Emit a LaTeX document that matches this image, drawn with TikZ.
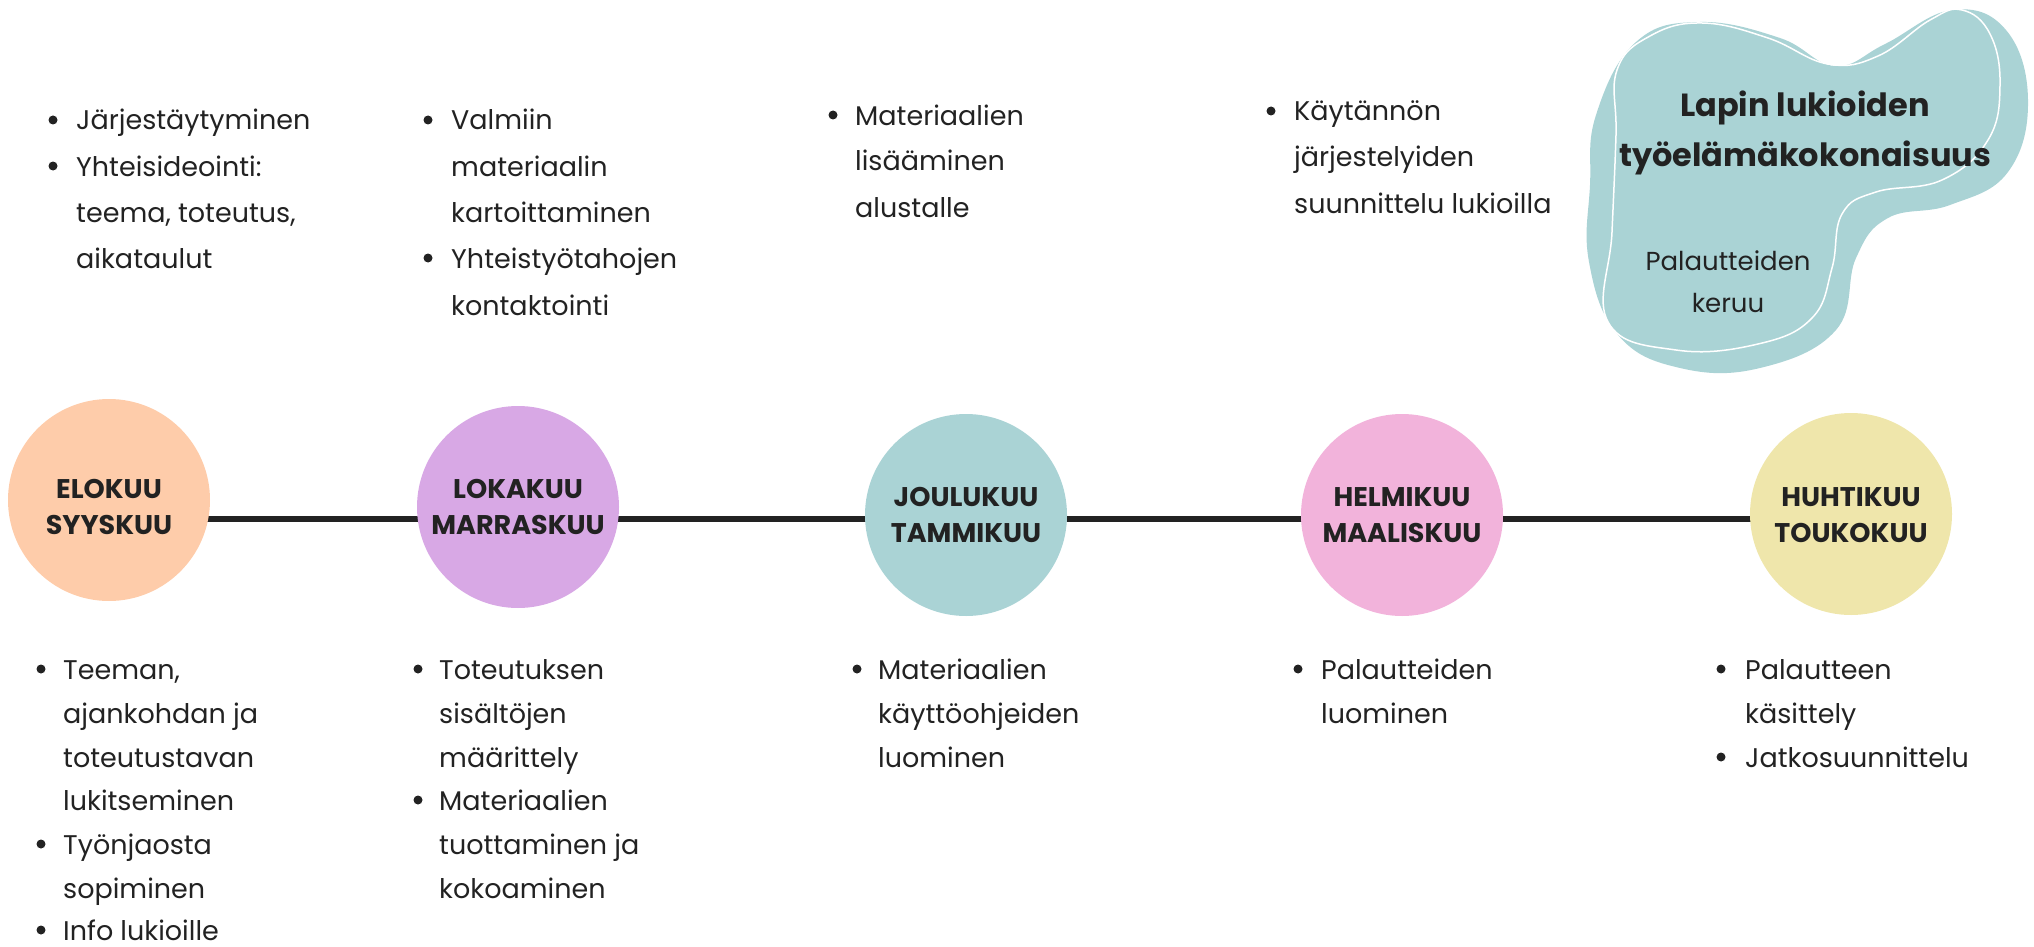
\documentclass[tikz,border=0pt]{standalone}
\usepackage{fontspec}
\setmainfont{Poppins}
\usetikzlibrary{backgrounds}
\definecolor{cpeach}{HTML}{FECCAA}
\definecolor{clilac}{HTML}{D8A8E5}
\definecolor{cteal}{HTML}{AAD3D5}
\definecolor{cpink}{HTML}{F2B3DB}
\definecolor{cyellow}{HTML}{EFE6AB}
\definecolor{ctext}{HTML}{222222}
\begin{document}
\begin{tikzpicture}[x=1pt,y=-1pt,
  txt/.style={font=\fontsize{27}{33}\selectfont, text=ctext, anchor=base west, inner sep=0pt},
  bul/.style={circle, fill=ctext, minimum size=9pt, inner sep=0pt},
  mon/.style={circle, minimum size=202pt, inner sep=0pt},
  monlbl/.style={font=\bfseries\fontsize{27}{32}\selectfont, text=ctext, anchor=base, inner sep=0pt},
  tl/.style={line width=6.5pt, draw=ctext},
  blobtitle/.style={font=\bfseries\fontsize{32}{38}\selectfont, text=ctext, anchor=base, inner sep=0pt},
  blobtxt/.style={font=\fontsize{26}{32}\selectfont, text=ctext, anchor=base, inner sep=0pt}
]
\useasboundingbox (0,0) rectangle (2034,947);

% blob
\fill[cteal] plot[smooth cycle, tension=0.7] coordinates {
  (1596,115) (1636,42) (1700,22) (1780,38) (1835,66) (1885,44) (1952,10)
  (2006,30) (2028,100) (2008,172) (1950,205) (1888,218) (1856,258)
  (1836,330) (1760,368) (1680,368) (1618,335) (1589,262) (1590,185)};
\draw[white, line width=1.5pt] plot[smooth cycle, tension=0.7] coordinates {
  (1617,70) (1650,36) (1702,23) (1768,38) (1828,64) (1878,56) (1930,20)
  (1962,10) (1990,34) (2000,85) (1988,140) (1942,180) (1876,192)
  (1842,214) (1832,268) (1812,318) (1758,344) (1676,350) (1608,322)
  (1612,232) (1616,135)};
\node[blobtitle] (bt1) at (1805,117) {Lapin lukioiden};
\node[blobtitle] (bt2) at (1805,167) {työelämäkokonaisuus};
\node[blobtxt] (bp1) at (1728,270) {Palautteiden};
\node[blobtxt] (bp2) at (1728,312) {keruu};

% circles
\node[mon, fill=cpeach] (c1) at (109,500) {};
\node[mon, fill=clilac] (c2) at (518,507) {};
\node[mon, fill=cteal] (c3) at (966,515) {};
\node[mon, fill=cpink] (c4) at (1402,515) {};
\node[mon, fill=cyellow] (c5) at (1851,514) {};
\coordinate (yl) at (0,519);
\begin{scope}[on background layer]
  \draw[tl] (c1 |- yl) -- (c2 |- yl) -- (c3 |- yl) -- (c4 |- yl) -- (c5 |- yl);
\end{scope}
\node[monlbl] (m1a) at (109,498) {ELOKUU};
\node[monlbl] (m1b) at (109,534) {SYYSKUU};
\node[monlbl] (m2a) at (518,498) {LOKAKUU};
\node[monlbl] (m2b) at (518,534) {MARRASKUU};
\node[monlbl] (m3a) at (966,506) {JOULUKUU};
\node[monlbl] (m3b) at (966,542) {TAMMIKUU};
\node[monlbl] (m4a) at (1402,506) {HELMIKUU};
\node[monlbl] (m4b) at (1402,542) {MAALISKUU};
\node[monlbl] (m5a) at (1851,506) {HUHTIKUU};
\node[monlbl] (m5b) at (1851,542) {TOUKOKUU};

% top block 1
\node[bul] (tb1a) at (53,120) {};
\node[txt] (t1a) at (76,130) {Järjestäytyminen};
\node[bul] (tb1b) at (53,166) {};
\node[txt] (t1b) at (76,176) {Yhteisideointi:};
\node[txt] (t1c) at (76,222) {teema, toteutus,};
\node[txt] (t1d) at (76,268) {aikataulut};
% top block 2
\node[bul] (tb2a) at (428,120) {};
\node[txt] (t2a) at (451,130) {Valmiin};
\node[txt] (t2b) at (451,176) {materiaalin};
\node[txt] (t2c) at (451,222) {kartoittaminen};
\node[bul] (tb2b) at (428,258) {};
\node[txt] (t2d) at (451,268) {Yhteistyötahojen};
\node[txt] (t2e) at (451,315) {kontaktointi};
% top block 3
\node[bul] (tb3a) at (833,115) {};
\node[txt] (t3a) at (855,125) {Materiaalien};
\node[txt] (t3b) at (855,171) {lisääminen};
\node[txt] (t3c) at (855,217) {alustalle};
% top block 4
\node[bul] (tb4a) at (1271,111) {};
\node[txt] (t4a) at (1294,121) {Käytännön};
\node[txt] (t4b) at (1294,167) {järjestelyiden};
\node[txt] (t4c) at (1294,213) {suunnittelu lukioilla};

% bottom block 1
\node[bul] (bb1a) at (41,669) {};
\node[txt] (b1a) at (63,679) {Teeman,};
\node[txt] (b1b) at (63,723) {ajankohdan ja};
\node[txt] (b1c) at (63,767) {toteutustavan};
\node[txt] (b1d) at (63,810) {lukitseminen};
\node[bul] (bb1b) at (41,844) {};
\node[txt] (b1e) at (63,854) {Työnjaosta};
\node[txt] (b1f) at (63,898) {sopiminen};
\node[bul] (bb1c) at (41,930) {};
\node[txt] (b1g) at (63,940) {Info lukioille};
% bottom block 2
\node[bul] (bb2a) at (418,669) {};
\node[txt] (b2a) at (439,679) {Toteutuksen};
\node[txt] (b2b) at (439,723) {sisältöjen};
\node[txt] (b2c) at (439,767) {määrittely};
\node[bul] (bb2b) at (418,800) {};
\node[txt] (b2d) at (439,810) {Materiaalien};
\node[txt] (b2e) at (439,854) {tuottaminen ja};
\node[txt] (b2f) at (439,898) {kokoaminen};
% bottom block 3
\node[bul] (bb3a) at (857,669) {};
\node[txt] (b3a) at (878,679) {Materiaalien};
\node[txt] (b3b) at (878,723) {käyttöohjeiden};
\node[txt] (b3c) at (878,767) {luominen};
% bottom block 4
\node[bul] (bb4a) at (1298,669) {};
\node[txt] (b4a) at (1321,679) {Palautteiden};
\node[txt] (b4b) at (1321,723) {luominen};
% bottom block 5
\node[bul] (bb5a) at (1721,669) {};
\node[txt] (b5a) at (1745,679) {Palautteen};
\node[txt] (b5b) at (1745,723) {käsittely};
\node[bul] (bb5b) at (1721,757) {};
\node[txt] (b5c) at (1745,767) {Jatkosuunnittelu};
\end{tikzpicture}
\end{document}
